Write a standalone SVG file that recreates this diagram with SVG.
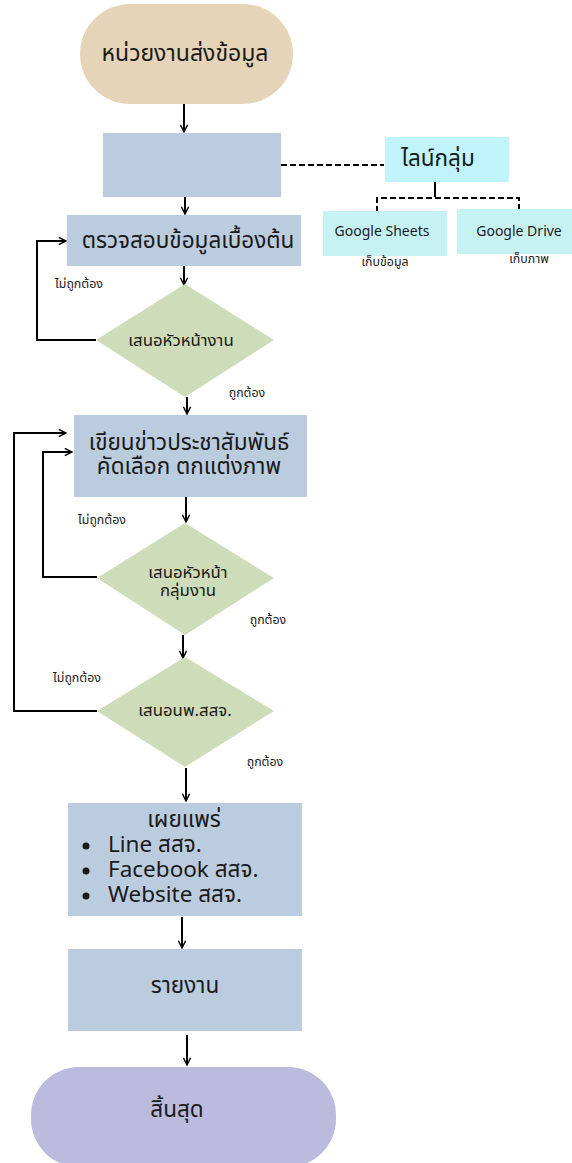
<svg xmlns="http://www.w3.org/2000/svg" width="572" height="1163" viewBox="0 0 572 1163">
<defs>
<marker id="arr" viewBox="0 0 10 10" refX="9" refY="5" markerWidth="9" markerHeight="9" markerUnits="userSpaceOnUse" orient="auto">
<path d="M1,1 L9,5 L1,9" fill="none" stroke="#000" stroke-width="1.6"/>
</marker>
<style>
text{font-family:"Noto Sans Thai","Noto Sans","Liberation Sans",sans-serif;fill:#1a1a1a;text-anchor:middle}
.box{fill:#bbccdf}
.dia{fill:#cfdcb9}
.cy{fill:#c0f4fa}
.gc{fill:#c7f2f4}
.ln{fill:none;stroke:#000;stroke-width:2}
.ar{fill:none;stroke:#000;stroke-width:2;marker-end:url(#arr)}
.da{fill:none;stroke:#000;stroke-width:2;stroke-dasharray:6,3}
.t23{font-size:23px}
.t22{font-size:22.5px}
.t17{font-size:16.8px}
.t14{font-size:14px}
.t12{font-size:12.4px}
</style>
</defs>
<g id="connectors">
<line class="ar" x1="184" y1="101" x2="184" y2="132"/>
<line class="da" x1="281" y1="165" x2="384" y2="165"/>
<line class="ln" x1="435" y1="182" x2="435" y2="197"/>
<polyline class="da" points="377,212 377,198 519,198 519,209"/>
<line class="ar" x1="185" y1="197" x2="185" y2="214"/>
<polyline class="ar" points="96,340 37,340 37,241 66,241"/>
<line class="ar" x1="184" y1="266" x2="184" y2="285"/>
<line class="ar" x1="187" y1="397" x2="187" y2="414"/>
<line class="ar" x1="186" y1="497" x2="186" y2="522"/>
<polyline class="ar" points="97,577 43,577 43,452 72,452"/>
<line class="ar" x1="183" y1="635" x2="183" y2="658"/>
<polyline class="ar" points="97,711 14,711 14,433 66,433"/>
<line class="ar" x1="186" y1="768" x2="186" y2="801"/>
<line class="ar" x1="182" y1="917" x2="182" y2="948"/>
<line class="ar" x1="187" y1="1035" x2="187" y2="1065"/>
</g>
<g id="n-start">
<rect x="80" y="4" width="213" height="100" rx="50" fill="#e5d4b8"/>
<text class="t23" x="185" y="61">หน่วยงานส่งข้อมูล</text>
</g>
<g id="n-receive">
<rect class="box" x="103" y="133" width="178" height="64"/>
</g>
<g id="n-line">
<rect class="cy" x="385" y="137" width="124" height="45"/>
<text class="t22" x="438" y="166">ไลน์กลุ่ม</text>
</g>
<g id="n-sheets">
<rect class="gc" x="323" y="211" width="124" height="45"/>
<text class="t14" x="382" y="236">Google Sheets</text>
<text class="t12" x="385" y="266">เก็บข้อมูล</text>
</g>
<g id="n-drive">
<rect class="gc" x="457" y="209" width="115" height="45"/>
<text class="t14" x="519" y="236">Google Drive</text>
<text class="t12" x="529" y="263">เก็บภาพ</text>
</g>
<g id="n-check">
<rect class="box" x="67" y="215" width="234" height="51"/>
<text class="t22" x="188" y="248">ตรวจสอบข้อมูลเบื้องต้น</text>
</g>
<g id="n-d1">
<polygon class="dia" points="185,284 274,340 185,397 96,340"/>
<text class="t17" x="181" y="346">เสนอหัวหน้างาน</text>
</g>
<text class="t12" x="79" y="288">ไม่ถูกต้อง</text>
<text class="t12" x="247" y="397">ถูกต้อง</text>
<g id="n-write">
<rect class="box" x="74" y="415" width="233" height="82"/>
<text class="t22"><tspan x="189" y="450">เขียนข่าวประชาสัมพันธ์</tspan><tspan x="189" y="474">คัดเลือก ตกแต่งภาพ</tspan></text>
</g>
<text class="t12" x="102" y="524">ไม่ถูกต้อง</text>
<g id="n-d2">
<polygon class="dia" points="185,523 274,578 185,635 97,578"/>
<text class="t17"><tspan x="188" y="578">เสนอหัวหน้า</tspan><tspan x="188" y="596">กลุ่มงาน</tspan></text>
</g>
<text class="t12" x="268" y="624">ถูกต้อง</text>
<text class="t12" x="77" y="682">ไม่ถูกต้อง</text>
<g id="n-d3">
<polygon class="dia" points="185,657 274,711 185,767 97,711"/>
<text class="t17" x="185" y="716">เสนอนพ.สสจ.</text>
</g>
<text class="t12" x="265" y="766">ถูกต้อง</text>
<g id="n-publish">
<rect class="box" x="68" y="803" width="234" height="113"/>
<text class="t22" x="184" y="827">เผยแพร่</text>
<circle cx="86" cy="846" r="3.5" fill="#1a1a1a"/>
<circle cx="86" cy="871" r="3.5" fill="#1a1a1a"/>
<circle cx="86" cy="896" r="3.5" fill="#1a1a1a"/>
<text class="t22" style="text-anchor:start"><tspan x="108" y="852">Line สสจ.</tspan><tspan x="108" y="877">Facebook สสจ.</tspan><tspan x="108" y="902">Website สสจ.</tspan></text>
</g>
<g id="n-report">
<rect class="box" x="68" y="949" width="234" height="82"/>
<text class="t22" x="185" y="993">รายงาน</text>
</g>
<g id="n-end">
<rect x="31" y="1067" width="305" height="100" rx="48" fill="#bbbbdd"/>
<text class="t22" x="177" y="1117">สิ้นสุด</text>
</g>
</svg>
